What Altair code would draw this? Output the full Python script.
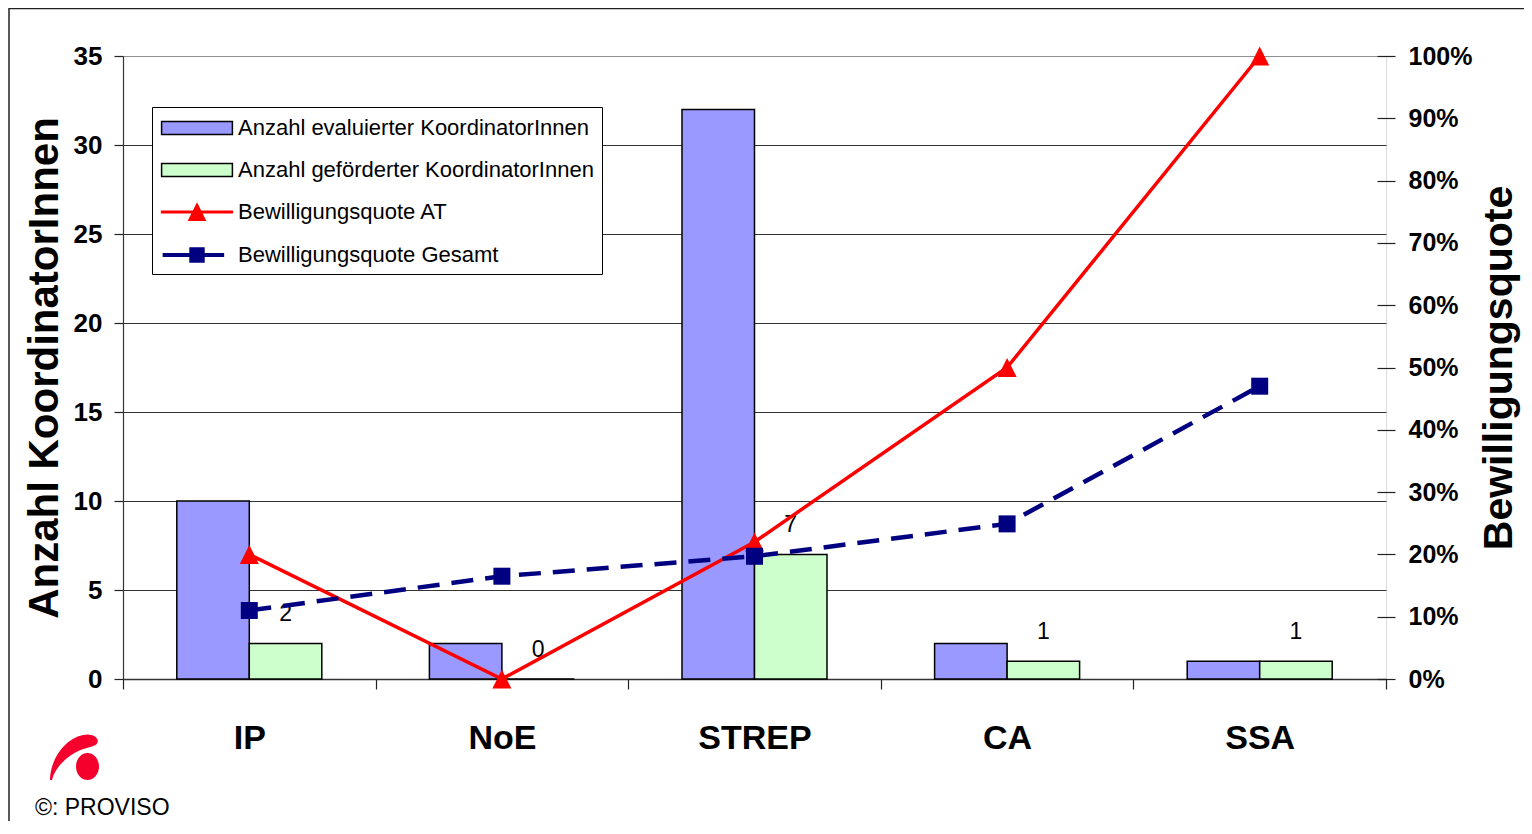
import altair as alt
import pandas as pd

# ---------------- data ----------------
categories = ["IP", "NoE", "STREP", "CA", "SSA"]
evaluated = [10, 2, 32, 2, 1]
funded = [2, 0, 7, 1, 1]
quote_at = [0.20, 0.0, 0.22, 0.50, 1.0]
quote_total = [0.11, 0.165, 0.197, 0.249, 0.47]

series_names = [
    "Anzahl evaluierter KoordinatorInnen",
    "Anzahl geförderter KoordinatorInnen",
    "Bewilligungsquote AT",
    "Bewilligungsquote Gesamt",
]
series_colors = ["#9999FF", "#CCFFCC", "#FF0000", "#000080"]
legend_strokes = ["#000000", "#000000", "#FF0000", "#000080"]
left_ticks = [0, 5, 10, 15, 20, 25, 30, 35]
right_ticks = [0, 0.1, 0.2, 0.3, 0.4, 0.5, 0.6, 0.7, 0.8, 0.9, 1.0]
copyright_text = "©: PROVISO"

FONT = "Liberation Sans"

# legend symbol paths (unit = 12 px)
legend_paths = [
    "M-2.95,-0.55H2.95V0.55H-2.95Z",
    "M-2.95,-0.55H2.95V0.55H-2.95Z",
    "M-2.95,-0.07H2.95V0.07H-2.95Z M0,-0.68L0.68,0.68L-0.68,0.68Z",
    "M-2.8,-0.1H2.2V0.1H-2.8Z M-0.58,-0.58H0.58V0.58H-0.58Z",
]
TRIANGLE = "M0,-1L1,1L-1,1Z"
LOGO = ("M-1,0.92 C-1,0.2 -0.5,-0.7 0.32,-0.88 C0.75,-0.98 1.05,-0.7 0.85,-0.5 "
        "C0.75,-0.42 0.5,-0.38 0.2,-0.27 C-0.3,-0.05 -0.8,0.4 -0.92,0.92 Z "
        "M0.96,0.38 C0.96,0.678 0.754,0.92 0.5,0.92 C0.246,0.92 0.04,0.678 0.04,0.38 "
        "C0.04,0.082 0.246,-0.16 0.5,-0.16 C0.754,-0.16 0.96,0.082 0.96,0.38 Z")

bars_df = pd.DataFrame({
    "cat": categories * 2,
    "series": [series_names[0]] * 5 + [series_names[1]] * 5,
    "count": evaluated + funded,
    "fill": [series_colors[0]] * 5 + [series_colors[1]] * 5,
})
labels_df = pd.DataFrame({"cat": categories, "series": [series_names[1]] * 5, "count": funded})
lines_df = pd.DataFrame({
    "cat": categories * 2,
    "series": [series_names[2]] * 5 + [series_names[3]] * 5,
    "q": quote_at + quote_total,
})
one = pd.DataFrame({"a": [0]})

# ---------------- encodings ----------------
x_enc = alt.X(
    "cat:N",
    scale=alt.Scale(domain=categories, paddingInner=0, paddingOuter=0),
    axis=alt.Axis(
        title=None, labelAngle=0, labelFont=FONT, labelFontSize=34, labelFontWeight="bold",
        labelColor="black", labelPadding=32, tickBand="extent", tickSize=10, tickColor="#222",
        tickWidth=1.2, domainColor="#333", domainWidth=1.5, grid=False,
    ),
)
xoff = alt.XOffset("series:N", scale=alt.Scale(domain=series_names[:2], paddingInner=0, paddingOuter=0.742))

y_left = alt.Y(
    "count:Q",
    scale=alt.Scale(domain=[0, 35], nice=False, zero=True),
    axis=alt.Axis(
        values=left_ticks, title="Anzahl KoordinatorInnen", titleFont=FONT, titleFontSize=42,
        titleFontWeight="bold", titleColor="black", titlePadding=7,
        labelFont=FONT, labelFontSize=26, labelFontWeight="bold", labelColor="black", labelPadding=12,
        tickSize=9, tickColor="#222", tickWidth=1.2, domainColor="#333", domainWidth=1.2,
        grid=True, gridWidth=1,
        gridColor={"condition": {"test": "datum.value === 35", "value": "#909090"}, "value": "#333333"},
    ),
)
y_right = alt.Y(
    "q:Q",
    scale=alt.Scale(domain=[0, 1], nice=False),
    axis=alt.Axis(
        orient="right", values=right_ticks, format=".0%", title="Bewilligungsquote",
        titleFont=FONT, titleFontSize=41, titleFontWeight="bold", titleColor="black",
        titleAngle=270, titleBaseline="top", titlePadding=8,
        labelFont=FONT, labelFontSize=25, labelFontWeight="bold", labelColor="black", labelPadding=13,
        offset=-9, tickSize=18, tickColor="#222", tickWidth=1.2, domain=False, grid=False,
    ),
)

legend = alt.Legend(
    title=None, orient="none", legendX=29, legendY=51, padding=8,
    fillColor="white", strokeColor="black", cornerRadius=0,
    symbolSize=576, symbolOffset=24, labelOffset=28, rowPadding=18,
    symbolOpacity=1, symbolStrokeWidth=1.5,
    labelFont=FONT, labelFontSize=22, labelColor="black", labelLimit=1000,
)

# ---------------- layers ----------------
frame = alt.Chart(one).mark_rect(fillOpacity=0, stroke="#222", strokeWidth=1.5).encode(
    x=alt.value(-114), x2=alt.value(1450), y=alt.value(-47.5), y2=alt.value(900)
)
logo = alt.Chart(one).mark_point(filled=True, color="#F5002D", opacity=1, shape=LOGO, size=2500).encode(
    x=alt.value(-48), y=alt.value(701)
)
copyright_mark = alt.Chart(one).mark_text(
    font=FONT, fontSize=23, align="left", baseline="alphabetic", color="black"
).encode(x=alt.value(-88), y=alt.value(759), text=alt.value(copyright_text))

bars = alt.Chart(bars_df).mark_bar(stroke="black", strokeWidth=1.5).encode(
    x=x_enc, xOffset=xoff, y=y_left, color=alt.Color("fill:N", scale=None)
)
labels = alt.Chart(labels_df).mark_text(
    font=FONT, fontSize=23, color="black", baseline="middle", dy=-29
).encode(x=x_enc, xOffset=xoff, y=y_left, text="count:Q")

at_base = alt.Chart(lines_df).transform_filter(alt.datum.series == series_names[2])
tot_base = alt.Chart(lines_df).transform_filter(alt.datum.series == series_names[3])

line_at = at_base.mark_line(color="#FF0000", strokeWidth=3.5).encode(x=x_enc, y=y_right)
pts_at = at_base.mark_point(filled=True, color="#FF0000", opacity=1, shape=TRIANGLE, size=361).encode(
    x=x_enc, y=y_right
)
line_tot = tot_base.mark_line(color="#000080", strokeWidth=4.5, strokeDash=[22, 12]).encode(x=x_enc, y=y_right)
pts_tot = tot_base.mark_point(filled=True, color="#000080", opacity=1, shape="square", size=289).encode(
    x=x_enc, y=y_right
)
legend_layer = alt.Chart(lines_df).mark_point(filled=True, opacity=0).encode(
    x=x_enc,
    y=y_right,
    color=alt.Color("series:N", scale=alt.Scale(domain=series_names, range=series_colors), legend=legend),
    stroke=alt.Stroke("series:N", scale=alt.Scale(domain=series_names, range=legend_strokes), legend=legend),
    shape=alt.Shape("series:N", scale=alt.Scale(domain=series_names, range=legend_paths), legend=legend),
)

left = alt.layer(frame, logo, copyright_mark, bars, labels)
right = alt.layer(line_at, pts_at, line_tot, pts_tot, legend_layer)

chart = (
    alt.layer(left, right)
    .resolve_scale(y="independent")
    .properties(
        width=1263, height=623,
        padding={"left": 115, "top": 48, "right": 138, "bottom": 142},
        autosize=alt.AutoSizeParams(type="none"),
        background="white",
    )
    .configure_view(stroke="#808080", strokeWidth=1.5)
    .configure(font=FONT)
)

chart.save("out.html", embed_options={"renderer": "svg", "actions": False})
